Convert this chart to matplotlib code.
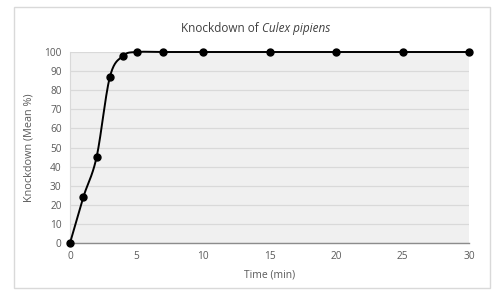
import numpy as np
import matplotlib.pyplot as plt
from matplotlib.patches import Rectangle

time_min = [0, 1, 2, 3, 4, 5, 7, 10, 15, 20, 25, 30]
knockdown = [0, 24, 45, 87, 98, 100, 100, 100, 100, 100, 100, 100]
x_ticks = [0, 5, 10, 15, 20, 25, 30]
y_ticks = list(range(0, 101, 10))


def smooth_curve(xs, ys, n=30):
    # Catmull-Rom style smoothing, like an Excel "smoothed line"
    xs = np.asarray(xs, float)
    ys = np.asarray(ys, float)
    px = np.concatenate([[xs[0]], xs, [xs[-1]]])
    py = np.concatenate([[ys[0]], ys, [ys[-1]]])
    out_x, out_y = [], []
    t = np.linspace(0, 1, n)
    for i in range(1, len(px) - 2):
        x0, x1, x2, x3 = px[i - 1:i + 3]
        y0, y1, y2, y3 = py[i - 1:i + 3]
        c1x, c1y = x1 + (x2 - x0) / 6, y1 + (y2 - y0) / 6
        c2x, c2y = x2 - (x3 - x1) / 6, y2 - (y3 - y1) / 6
        bx = (1 - t) ** 3 * x1 + 3 * (1 - t) ** 2 * t * c1x + 3 * (1 - t) * t ** 2 * c2x + t ** 3 * x2
        by = (1 - t) ** 3 * y1 + 3 * (1 - t) ** 2 * t * c1y + 3 * (1 - t) * t ** 2 * c2y + t ** 3 * y2
        out_x.extend(bx)
        out_y.extend(by)
    return out_x, out_y


plt.rcParams['font.family'] = ['Open Sans', 'DejaVu Sans']
text_color = '#5a5a5a'
title_color = '#404040'

fig = plt.figure(figsize=(4.98, 2.95), dpi=100)
fig.patch.set_facecolor('white')
fig.add_artist(Rectangle((14 / 498, 1 - 288 / 295), 476 / 498, 281 / 295,
                         transform=fig.transFigure, fill=False,
                         edgecolor='#d9d9d9', linewidth=1.0))

ax = fig.add_axes([70 / 498, 1 - 243 / 295, 399 / 498, 191 / 295])
ax.set_facecolor('#f0f0f0')

sx, sy = smooth_curve(time_min, knockdown)
ax.plot(sx, sy, color='black', linewidth=1.4, clip_on=False, zorder=3)
ax.plot(time_min, knockdown, linestyle='none', marker='o', markersize=5,
        color='black', clip_on=False, zorder=4)

ax.set_xlim(0, 30)
ax.set_ylim(0, 100)
ax.set_xticks(x_ticks)
ax.set_yticks(y_ticks)
ax.yaxis.grid(True, color='#d9d9d9', linewidth=0.9)
ax.set_axisbelow(True)
ax.tick_params(axis='both', length=0, labelsize=7.3, labelcolor=text_color, pad=6)

for side in ['top', 'right']:
    ax.spines[side].set_visible(False)
ax.spines['left'].set_color('#d9d9d9')
ax.spines['bottom'].set_color('#8c8c8c')
ax.spines['bottom'].set_linewidth(1.0)

ax.set_xlabel('Time (min)', fontsize=7.5, color=text_color, labelpad=5)
ax.set_ylabel('Knockdown (Mean %)', fontsize=7.8, color=text_color, labelpad=7)

fig.text(0.526, 0.905, 'Knockdown of ', ha='right', va='center', fontsize=8.5, color=title_color)
fig.text(0.526, 0.905, 'Culex pipiens', ha='left', va='center', fontsize=8.5,
         style='italic', color=title_color)

fig.savefig('out.png', dpi=100)
